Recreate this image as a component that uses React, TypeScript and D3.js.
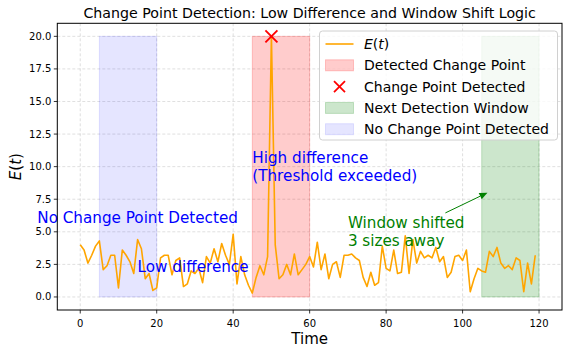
import React from "react";
import * as d3 from "d3";

const W = 568;
const H = 352;

// E(t) series, t = 0..119
const eValues: number[] = [
  4.0, 3.6, 2.6, 3.2, 3.9, 4.3, 2.1, 2.4, 3.2, 3.2,
  0.7, 3.6, 3.2, 2.7, 1.8, 4.4, 3.7, 1.4, 1.8, 0.5,
  0.7, 3.0, 3.2, 3.2, 1.7, 2.8, 3.0, 0.8, 1.0, 2.0,
  1.8, 2.2, 1.1, 3.1, 2.6, 3.7, 2.7, 4.1, 3.2, 2.5,
  4.8, 1.0, 3.1, 1.7, 0.9, 0.3, 1.5, 2.4, 1.7, 3.1,
  20.0, 4.0, 1.4, 1.7, 2.5, 1.7, 3.3, 1.7, 2.1, 2.5,
  3.1, 2.3, 4.2, 2.1, 3.3, 1.4, 2.5, 2.7, 1.5, 3.2,
  3.2, 3.3, 3.0, 2.8, 1.5, 0.8, 1.9, 0.9, 1.1, 3.9,
  2.2, 2.0, 3.6, 1.8, 1.9, 4.7, 1.8, 4.4, 2.6, 3.5,
  3.0, 3.2, 3.0, 3.8, 2.7, 3.1, 1.5, 1.9, 3.1, 3.2,
  2.8, 3.6, 0.4, 1.4, 2.2, 2.0, 1.9, 3.5, 3.1, 3.8,
  2.6, 2.2, 2.4, 2.1, 3.0, 2.8, 0.4, 2.6, 1.0, 3.2,
];
const times: number[] = eValues.map((_, i) => i);

// windows: [start, end, yBottom, yTop]
const noChangeWindow = [5, 20, 0, 20];
const changeWindow = [45, 60, 0, 20];
const nextWindow = [105, 120, 0, 20];
const changePoint = [50, 20];

const xTicks = [0, 20, 40, 60, 80, 100, 120];
const yTicks = [0, 2.5, 5, 7.5, 10, 12.5, 15, 17.5, 20];

const title = "Change Point Detection: Low Difference and Window Shift Logic";
const legendLabels = [
  "E(t)",
  "Detected Change Point",
  "Change Point Detected",
  "Next Detection Window",
  "No Change Point Detected",
];

const FONT = "DejaVu Sans, sans-serif";

export default function App() {
  const left = 57.3, right = 562, top = 23.3, bottom = 310;
  const x = d3.scaleLinear().domain([-6, 126]).range([left, right]);
  const y = d3.scaleLinear().domain([-1, 21]).range([bottom, top]);

  const line = d3
    .line<number>()
    .x((_, i) => x(times[i]))
    .y((d) => y(d));

  const span = (w: number[], fill: string, op: number) => (
    <rect
      x={x(w[0])}
      y={y(w[3])}
      width={x(w[1]) - x(w[0])}
      height={y(w[2]) - y(w[3])}
      fill={fill}
      fillOpacity={op}
      stroke={fill}
      strokeOpacity={op}
      strokeWidth={1}
    />
  );

  const cx = x(changePoint[0]);
  const cy = y(changePoint[1]);
  const ms = 6;

  // arrow
  const ax0 = x(95.5), ay0 = y(6.45);
  const ax1 = x(106.5), ay1 = y(8);
  const ang = Math.atan2(ay1 - ay0, ax1 - ax0);
  const hl = 8, hw = 3.5;
  const bx = ax1 - hl * Math.cos(ang), by = ay1 - hl * Math.sin(ang);
  const px = -Math.sin(ang) * hw, py = Math.cos(ang) * hw;

  const legX = 319.5, legY = 31, legW = 238, legH = 109;
  const itemY = (i: number) => 44 + i * 21.3;
  const hx0 = 325.5, hx1 = 353.5, tx = 364;

  return (
    <svg
      width={W}
      height={H}
      style={{ position: "absolute", left: 0, top: 0, background: "#fff" }}
      fontFamily={FONT}
    >
      <rect x={0} y={0} width={W} height={H} fill="#fff" />
      {/* grid */}
      {xTicks.map((t) => (
        <line key={"gx" + t} x1={x(t)} x2={x(t)} y1={top} y2={bottom}
          stroke="#b0b0b0" strokeOpacity={0.5} strokeWidth={0.8} strokeDasharray="3,2" />
      ))}
      {yTicks.map((t) => (
        <line key={"gy" + t} x1={left} x2={right} y1={y(t)} y2={y(t)}
          stroke="#b0b0b0" strokeOpacity={0.5} strokeWidth={0.8} strokeDasharray="3,2" />
      ))}
      {/* spans */}
      {span(noChangeWindow, "#0000ff", 0.1)}
      {span(changeWindow, "#ff0000", 0.2)}
      {span(nextWindow, "#008000", 0.2)}
      {/* line */}
      <path d={line(eValues) || ""} fill="none" stroke="orange" strokeWidth={1.6} strokeLinejoin="round" />
      {/* change point marker */}
      <g stroke="red" strokeWidth={1.8}>
        <line x1={cx - ms} y1={cy - ms} x2={cx + ms} y2={cy + ms} />
        <line x1={cx - ms} y1={cy + ms} x2={cx + ms} y2={cy - ms} />
      </g>
      {/* annotations */}
      <text x={x(15)} y={y(6)} dy="0.3em" textAnchor="middle" fontSize={15.2} fill="blue">
        No Change Point Detected
      </text>
      <text x={x(15)} y={y(2) + 1} fontSize={15.2} fill="blue">Low difference</text>
      <text x={x(45)} y={y(9) + 1} fontSize={15.2} fill="blue">
        <tspan x={x(45)} dy="-18">High difference</tspan>
        <tspan x={x(45)} dy="18">(Threshold exceeded)</tspan>
      </text>
      <text x={x(70)} y={y(4) + 1} fontSize={15.2} fill="green">
        <tspan x={x(70)} dy="-18">Window shifted</tspan>
        <tspan x={x(70)} dy="18">3 sizes away</tspan>
      </text>
      <line x1={ax0} y1={ay0} x2={bx} y2={by} stroke="green" strokeWidth={1} />
      <path d={`M${ax1},${ay1}L${bx + px},${by + py}L${bx - px},${by - py}Z`} fill="green" />
      {/* axes frame */}
      <rect x={left} y={top} width={right - left} height={bottom - top} fill="none" stroke="#000" strokeWidth={1} />
      {/* ticks */}
      {xTicks.map((t) => (
        <g key={"xt" + t}>
          <line x1={x(t)} x2={x(t)} y1={bottom} y2={bottom + 3.5} stroke="#000" strokeWidth={0.8} />
          <text x={x(t)} y={bottom + 13} dy="0.35em" textAnchor="middle" fontSize={10} fill="#000">
            {t}
          </text>
        </g>
      ))}
      {yTicks.map((t) => (
        <g key={"yt" + t}>
          <line x1={left - 3.5} x2={left} y1={y(t)} y2={y(t)} stroke="#000" strokeWidth={0.8} />
          <text x={left - 6} y={y(t)} dy="0.35em" textAnchor="end" fontSize={10} fill="#000">
            {t.toFixed(1)}
          </text>
        </g>
      ))}
      {/* axis labels */}
      <text x={(left + right) / 2} y={344} textAnchor="middle" fontSize={15} fill="#000">Time</text>
      <text transform={`translate(21,${(top + bottom) / 2}) rotate(-90)`} textAnchor="middle" fontSize={15} fill="#000">
        <tspan fontStyle="italic">E</tspan>(<tspan fontStyle="italic">t</tspan>)
      </text>
      {/* title */}
      <text x={(left + right) / 2} y={18} textAnchor="middle" fontSize={14.2} fill="#000">{title}</text>
      {/* legend */}
      <rect x={legX} y={legY} width={legW} height={legH} rx={3} fill="#fff" fillOpacity={0.8} stroke="#d0d0d0" strokeWidth={1} />
      <line x1={hx0} x2={hx1} y1={itemY(0)} y2={itemY(0)} stroke="orange" strokeWidth={1.6} />
      <text x={tx} y={itemY(0)} dy="0.35em" fontSize={14} fill="#000">
        <tspan fontStyle="italic">E</tspan>(<tspan fontStyle="italic">t</tspan>)
      </text>
      <rect x={hx0} y={itemY(1) - 5.5} width={hx1 - hx0} height={11} fill="#ff0000" fillOpacity={0.2} stroke="#ff0000" strokeOpacity={0.2} />
      <text x={tx} y={itemY(1)} dy="0.35em" fontSize={14} fill="#000">{legendLabels[1]}</text>
      <g stroke="red" strokeWidth={1.8}>
        <line x1={(hx0 + hx1) / 2 - 5.5} y1={itemY(2) - 5.5} x2={(hx0 + hx1) / 2 + 5.5} y2={itemY(2) + 5.5} />
        <line x1={(hx0 + hx1) / 2 - 5.5} y1={itemY(2) + 5.5} x2={(hx0 + hx1) / 2 + 5.5} y2={itemY(2) - 5.5} />
      </g>
      <text x={tx} y={itemY(2)} dy="0.35em" fontSize={14} fill="#000">{legendLabels[2]}</text>
      <rect x={hx0} y={itemY(3) - 5.5} width={hx1 - hx0} height={11} fill="#008000" fillOpacity={0.2} stroke="#008000" strokeOpacity={0.2} />
      <text x={tx} y={itemY(3)} dy="0.35em" fontSize={14} fill="#000">{legendLabels[3]}</text>
      <rect x={hx0} y={itemY(4) - 5.5} width={hx1 - hx0} height={11} fill="#0000ff" fillOpacity={0.1} stroke="#0000ff" strokeOpacity={0.1} />
      <text x={tx} y={itemY(4)} dy="0.35em" fontSize={14} fill="#000">{legendLabels[4]}</text>
    </svg>
  );
}
